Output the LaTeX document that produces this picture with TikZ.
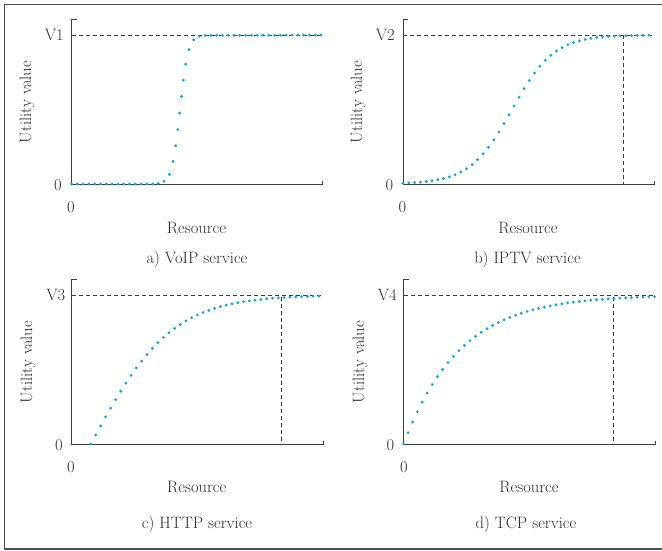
\documentclass[tikz,border=0pt]{standalone}
\usetikzlibrary{decorations.markings}

\definecolor{inkgray}{RGB}{45,45,45}
\definecolor{linegray}{RGB}{60,60,60}
\definecolor{framegray}{RGB}{80,80,80}
\definecolor{curvecyan}{RGB}{20,165,230}

\tikzset{
  axisline/.style={draw=linegray, line width=0.95pt},
  guide/.style={draw=linegray, line width=0.85pt, dash pattern=on 4.4pt off 2.6pt},
  lbl/.style={font=\fontsize{16.5}{19}\selectfont, text=inkgray, inner sep=0pt},
  % dots spaced along the curve in a vertically compressed metric (y/3);
  % the enclosing canvas transform stretches y back by 3, so each dot is
  % drawn as a flat ellipse that comes out round
  dotcurve/.style={decorate, decoration={markings,
      mark=between positions 0 and 1 step 5.8pt with {%
        \pgftransformresetnontranslations
        \fill[curvecyan] (0,0) ellipse [x radius=1.6pt, y radius=0.5333pt];}}},
}

\begin{document}
\begin{tikzpicture}[x=1pt, y=-1pt]
\useasboundingbox (0,0) rectangle (662,550);

% outer frame (open on the right)
\draw[framegray, line width=1.2pt] (662,4.7) -- (4.5,4.7) -- (4.5,549) -- (662,549);

% ---------------- a) VoIP ----------------
\draw[guide] (71.5,35) -- (322,35);
\draw[axisline] (76.5,19.5) -- (71.5,19.5) -- (71.5,184) -- (322,184) -- (322,181);
\node[lbl, anchor=east] (va) at (64,35) {V1};
\node[lbl] (ya) at (58,185.5) {0};
\node[lbl] (xa) at (71,207) {0};
\node[lbl] (ra) at (196.5,228) {Resource};
\node[lbl] (ca) at (197,259) {a) VoIP service};
\node[lbl, rotate=90] (ua) at (27,102) {Utility value};

% ---------------- b) IPTV ----------------
\draw[guide] (403,35) -- (654,35);
\draw[guide] (623,35) -- (623,184);
\draw[axisline] (408,19.5) -- (403,19.5) -- (403,184) -- (654,184) -- (654,181);
\node[lbl, anchor=east] (vb) at (395,35) {V2};
\node[lbl] (yb) at (389.5,185.5) {0};
\node[lbl] (xb) at (402.5,207) {0};
\node[lbl] (rb) at (528,228) {Resource};
\node[lbl] (cb) at (527.5,259) {b) IPTV service};
\node[lbl, rotate=90] (ub) at (358,102) {Utility value};

% ---------------- c) HTTP ----------------
\draw[guide] (71.7,295) -- (323,295);
\draw[guide] (281.7,297) -- (281.7,444);
\draw[axisline] (76.7,279) -- (71.7,279) -- (71.7,444) -- (323,444) -- (323,441);
\node[lbl, anchor=east] (vc) at (65.5,295) {V3};
\node[lbl] (yc) at (59,445) {0};
\node[lbl] (xc) at (71,467) {0};
\node[lbl] (rc) at (196.7,487) {Resource};
\node[lbl] (cc) at (197,524) {c) HTTP service};
\node[lbl, rotate=90] (uc) at (28,362) {Utility value};

% ---------------- d) TCP ----------------
\draw[guide] (403.7,295) -- (655,295);
\draw[guide] (613.7,297) -- (613.7,444);
\draw[axisline] (408.7,279) -- (403.7,279) -- (403.7,444) -- (655,444) -- (655,441);
\node[lbl, anchor=east] (vd) at (397,295) {V4};
\node[lbl] (yd) at (390.5,445) {0};
\node[lbl] (xd) at (404,467.5) {0};
\node[lbl] (rd) at (529,487) {Resource};
\node[lbl] (cd) at (526,524) {d) TCP service};
\node[lbl, rotate=90] (ud) at (360,362) {Utility value};

% ---------------- utility curves ----------------
\begin{scope}[transform canvas={yscale=3}]
  % step-like sigmoid
  \path[dotcurve] (71.5,184/3) -- (158,184/3)
    -- plot[domain=158:204, samples=70] (\x, {(184-149/(1+exp(-(\x-180)/4)))/3})
    -- (322,35/3);
  % smooth sigmoid
  \path[dotcurve] plot[domain=403:654, samples=100]
    (\x, {(184-149/(1+exp(-(\x-512)/21)))/3});
  % delayed concave rise
  \path[dotcurve] plot[domain=90.7:323, samples=90]
    (\x, {(444-149*tanh((\x-90.7)/81))/3});
  % concave rise from the origin
  \path[dotcurve] plot[domain=403.7:655, samples=90]
    (\x, {(444-149*(1-exp(-(\x-403.7)/56)))/3});
\end{scope}
\end{tikzpicture}
\end{document}
